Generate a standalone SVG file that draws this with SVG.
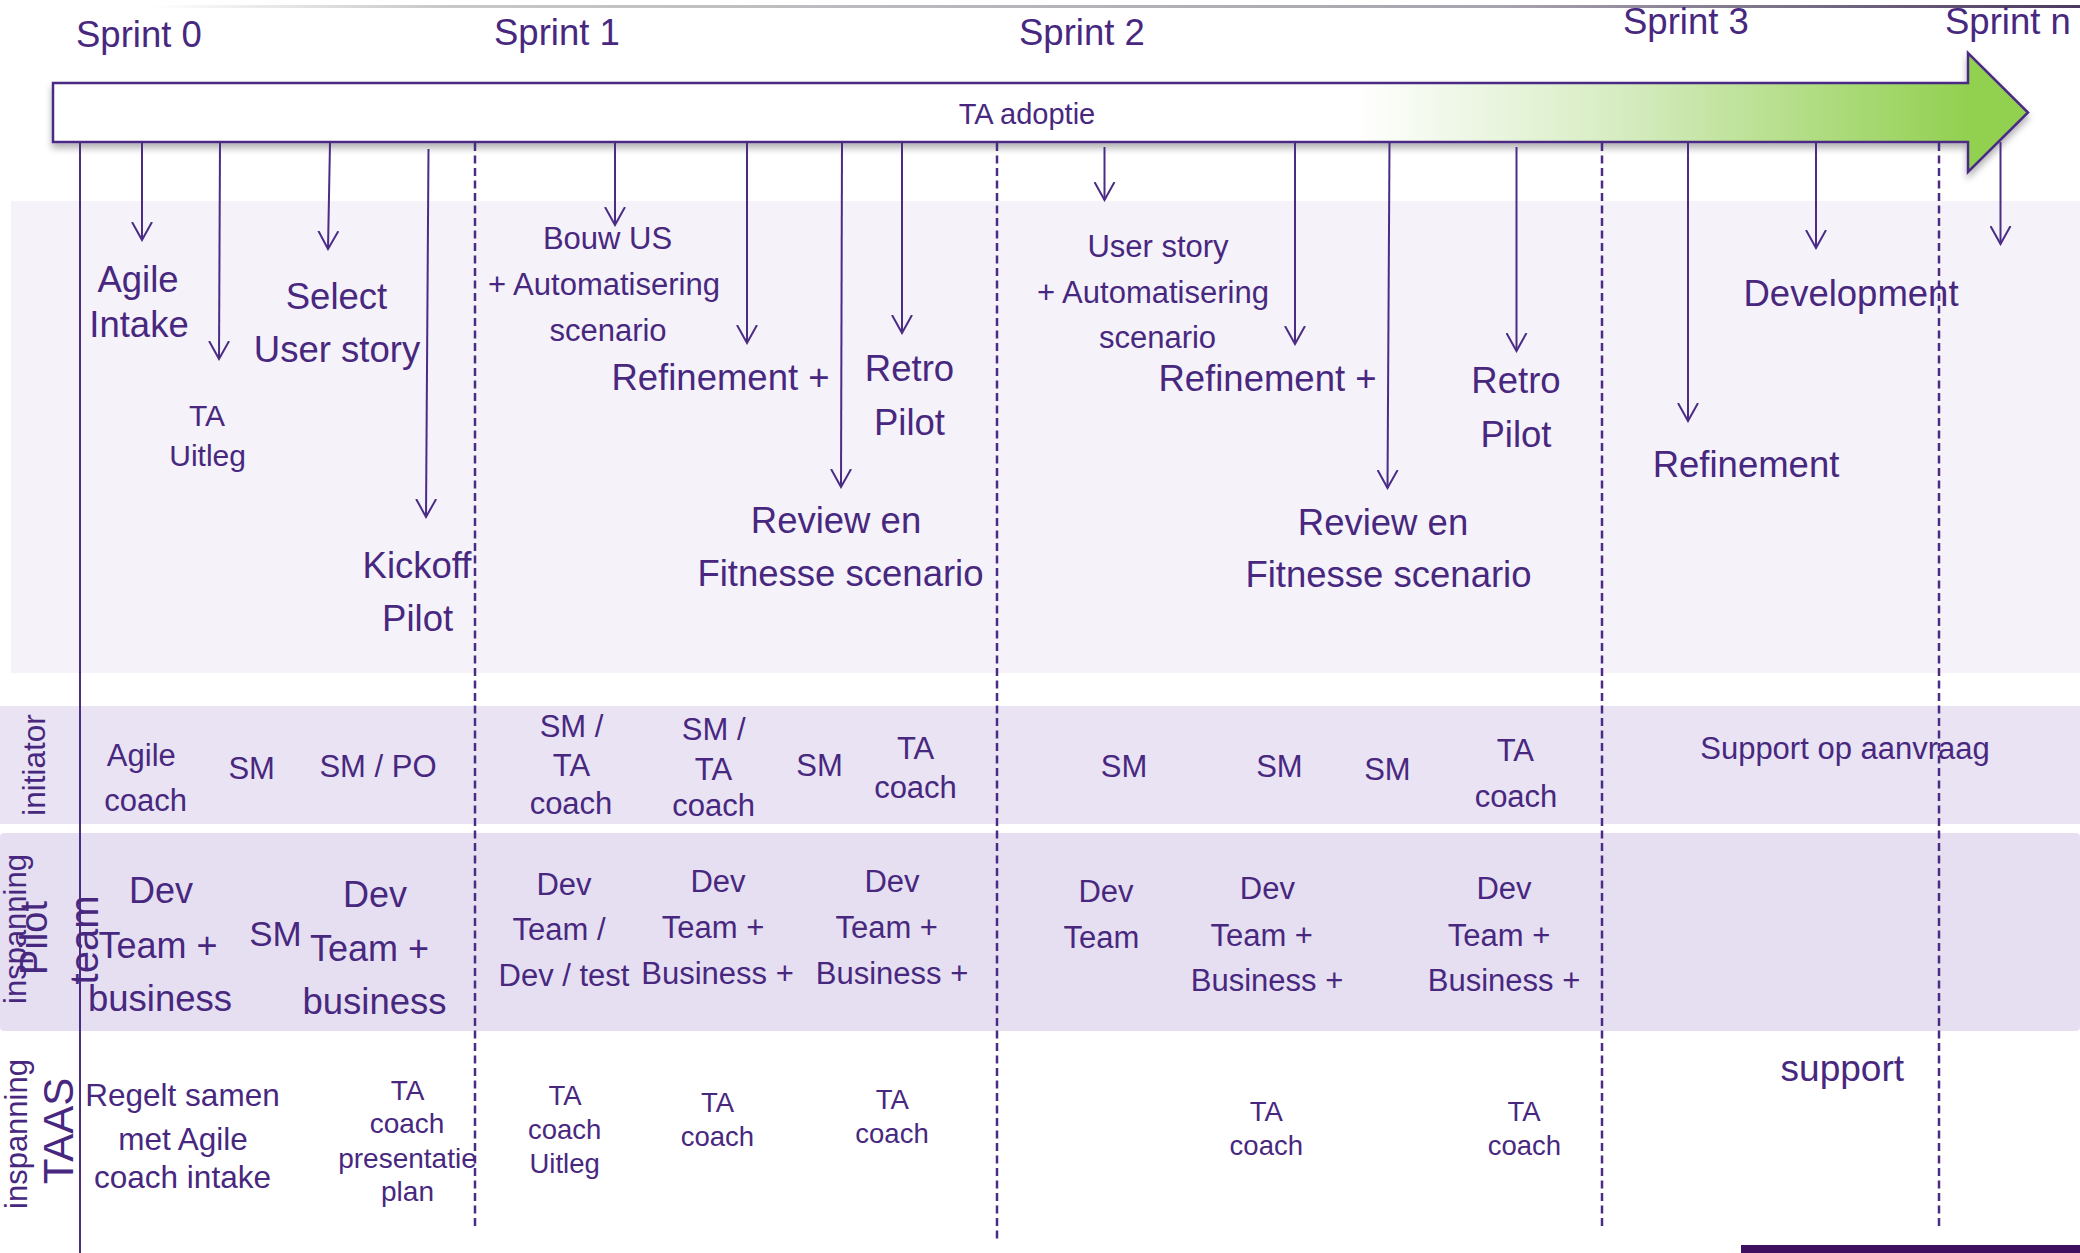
<svg xmlns="http://www.w3.org/2000/svg" width="2080" height="1253" viewBox="0 0 2080 1253">
<defs>
<style>
text{font-family:"Liberation Sans",Arial,sans-serif;fill:#48287F;text-anchor:middle}
.sp{font-size:36.5px;text-anchor:start}
.big{font-size:36.5px}
.med{font-size:31px}
.sm{font-size:27.5px}
.ln{stroke:#4B2C85;stroke-width:2;fill:none}
.arr{stroke:#4B2C85;stroke-width:2;fill:none;marker-end:url(#v)}
.dash{stroke:#4B2C85;stroke-width:2.5;stroke-dasharray:8 4.5;fill:none}
</style>
<marker id="v" viewBox="0 0 20 22" refX="18" refY="11" markerWidth="20" markerHeight="22" markerUnits="userSpaceOnUse" orient="auto">
<path d="M0,1 L18,11 L0,21" fill="none" stroke="#4B2C85" stroke-width="2"/>
</marker>
<linearGradient id="ag" x1="0" y1="0" x2="1" y2="0">
<stop offset="0" stop-color="#FFFFFF"/>
<stop offset="0.66" stop-color="#FFFFFF"/>
<stop offset="0.8" stop-color="#D4EBBE"/>
<stop offset="0.97" stop-color="#92D050"/>
<stop offset="1" stop-color="#92D050"/>
</linearGradient>
<linearGradient id="tg" x1="0" y1="0" x2="1" y2="0">
<stop offset="0" stop-color="#c8c8c8" stop-opacity="0"/>
<stop offset="0.15" stop-color="#c8c8c8"/>
<stop offset="0.7" stop-color="#a8a4ae"/>
<stop offset="1" stop-color="#4a3a60"/>
</linearGradient>
<filter id="sh" x="-5%" y="-30%" width="110%" height="170%">
<feDropShadow dx="0" dy="5" stdDeviation="3.5" flood-color="#000" flood-opacity="0.3"/>
</filter>
</defs>
<rect width="2080" height="1253" fill="#FFFFFF"/>

<g id="background">
<rect x="150" y="5" width="1930" height="3" fill="url(#tg)"/>
<rect id="band-activities" x="11" y="201" width="2069" height="472" fill="#F5F2FA"/>
<rect id="band-initiator" x="0" y="706" width="2080" height="118" fill="#E9E3F4"/>
<rect id="band-pilot" x="0" y="833" width="2080" height="198" rx="4" fill="#E6DFF1"/>
<rect x="1741" y="1245" width="339" height="8" fill="#3F1060"/>
</g>

<g id="sprints">
<text class="sp" x="76" y="47">Sprint 0</text>
<text class="sp" x="494" y="45">Sprint 1</text>
<text class="sp" x="1019" y="45">Sprint 2</text>
<text class="sp" x="1623" y="34">Sprint 3</text>
<text class="sp" x="1945" y="34">Sprint n</text>
</g>

<g id="ta-adoptie">
<path d="M53,83 L1968,83 L1968,53 L2028,112.5 L1968,172 L1968,142 L53,142 Z" fill="url(#ag)" stroke="#4B2C85" stroke-width="2.5" filter="url(#sh)"/>
<text x="1027" y="124" style="font-size:29px">TA adoptie</text>
</g>

<g id="connectors">
<line class="ln" x1="80" y1="143" x2="80" y2="1253"/>
<line class="dash" x1="475" y1="143" x2="475" y2="1228"/>
<line class="dash" x1="997" y1="143" x2="997" y2="1240"/>
<line class="dash" x1="1602" y1="143" x2="1602" y2="1229"/>
<line class="dash" x1="1939" y1="143" x2="1939" y2="1227"/>
<line class="arr" x1="142" y1="143" x2="142" y2="240"/>
<line class="arr" x1="220" y1="143" x2="219" y2="359"/>
<line class="arr" x1="330" y1="143" x2="328" y2="249"/>
<line class="arr" x1="428.5" y1="149" x2="426" y2="517"/>
<line class="arr" x1="615" y1="143" x2="615" y2="225"/>
<line class="arr" x1="747" y1="143" x2="747" y2="343"/>
<line class="arr" x1="842" y1="143" x2="841" y2="487"/>
<line class="arr" x1="902" y1="143" x2="902" y2="333"/>
<line class="arr" x1="1104.5" y1="147" x2="1104.5" y2="200"/>
<line class="arr" x1="1295" y1="143" x2="1295" y2="344"/>
<line class="arr" x1="1389.5" y1="143" x2="1387.5" y2="488"/>
<line class="arr" x1="1516.5" y1="147" x2="1516.5" y2="351"/>
<line class="arr" x1="1688" y1="143" x2="1688" y2="421"/>
<line class="arr" x1="1816" y1="143" x2="1816" y2="248"/>
<line class="arr" x1="2000.5" y1="142" x2="2000.5" y2="244"/>
</g>

<g id="row-titles">
<text transform="translate(45,765) rotate(-90)" style="font-size:31.5px">initiator</text>
<text transform="translate(26,929) rotate(-90)" style="font-size:31px">inspanning</text>
<text transform="translate(47,938) rotate(-90)" style="font-size:38px">Pilot</text>
<text transform="translate(98,940) rotate(-90)" style="font-size:40px">team</text>
<text transform="translate(27,1134) rotate(-90)" style="font-size:31px">inspanning</text>
<text transform="translate(73,1131) rotate(-90)" style="font-size:42px">TAAS</text>
</g>

<g id="agile-intake"><text class="big" x="138" y="292">Agile</text><text class="big" x="139" y="337">Intake</text></g>
<g id="ta-uitleg"><text x="207" y="426" style="font-size:30px">TA</text><text x="207.6" y="466" style="font-size:30px">Uitleg</text></g>
<g id="select-user-story"><text class="big" x="336.5" y="309">Select</text><text class="big" x="337" y="362">User story</text></g>
<g id="kickoff-pilot"><text class="big" x="417" y="578">Kickoff</text><text class="big" x="417.6" y="631">Pilot</text></g>
<g id="bouw-us"><text class="med" x="607.5" y="249">Bouw US</text><text class="med" x="604" y="295">+ Automatisering</text><text class="med" x="608" y="341">scenario</text></g>
<g id="refinement-1"><text class="big" x="720.5" y="390">Refinement +</text></g>
<g id="retro-1"><text class="big" x="909.5" y="381">Retro</text><text class="big" x="909.5" y="435">Pilot</text></g>
<g id="review-1"><text class="big" x="836" y="533">Review en</text><text class="big" x="840.5" y="586">Fitnesse scenario</text></g>
<g id="user-story-2"><text class="med" x="1158" y="257">User story</text><text class="med" x="1153" y="303">+ Automatisering</text><text class="med" x="1157.5" y="348">scenario</text></g>
<g id="refinement-2"><text class="big" x="1267.5" y="391">Refinement +</text></g>
<g id="retro-2"><text class="big" x="1516" y="393">Retro</text><text class="big" x="1516" y="447">Pilot</text></g>
<g id="review-2"><text class="big" x="1383" y="535">Review en</text><text class="big" x="1388.5" y="587">Fitnesse scenario</text></g>
<g id="refinement-3"><text class="big" x="1746" y="477">Refinement</text></g>
<g id="development"><text class="big" x="1851" y="306">Development</text></g>

<g id="initiator-row">
<text class="med" x="141.3" y="766">Agile</text><text class="med" x="145.7" y="811">coach</text>
<text class="med" x="251.7" y="779">SM</text>
<text class="med" x="378" y="777">SM / PO</text>
<text class="med" x="571.5" y="737">SM /</text><text class="med" x="571.5" y="776">TA</text><text class="med" x="571" y="814">coach</text>
<text class="med" x="713.7" y="740">SM /</text><text class="med" x="713.5" y="780">TA</text><text class="med" x="713.6" y="816">coach</text>
<text class="med" x="819.5" y="776">SM</text>
<text class="med" x="915.6" y="759">TA</text><text class="med" x="915.5" y="798">coach</text>
<text class="med" x="1124" y="777">SM</text>
<text class="med" x="1279.4" y="777">SM</text>
<text class="med" x="1387.4" y="780">SM</text>
<text class="med" x="1515.3" y="761">TA</text><text class="med" x="1516" y="807">coach</text>
<text class="med" x="1845" y="759">Support op aanvraag</text>
</g>

<g id="pilot-row">
<text x="161" y="903" style="font-size:36px">Dev</text><text x="158" y="958" style="font-size:36px">Team +</text><text x="160" y="1011" style="font-size:36.5px">business</text>
<text x="275.5" y="946" style="font-size:35px">SM</text>
<text x="375" y="907" style="font-size:36px">Dev</text><text x="369.5" y="961" style="font-size:36px">Team +</text><text x="374.5" y="1014" style="font-size:36.5px">business</text>
<text class="med" x="564" y="895">Dev</text><text class="med" x="559" y="939.5">Team /</text><text class="med" x="564" y="986">Dev / test</text>
<text class="med" x="718" y="892">Dev</text><text class="med" x="713" y="938">Team +</text><text class="med" x="717.5" y="984">Business +</text>
<text class="med" x="892" y="892">Dev</text><text class="med" x="886.7" y="938">Team +</text><text class="med" x="892" y="984">Business +</text>
<text class="med" x="1106" y="902">Dev</text><text class="med" x="1101.4" y="948">Team</text>
<text class="med" x="1267.4" y="899">Dev</text><text class="med" x="1261.7" y="946">Team +</text><text class="med" x="1267" y="991">Business +</text>
<text class="med" x="1504" y="899">Dev</text><text class="med" x="1499" y="946">Team +</text><text class="med" x="1504" y="991">Business +</text>
</g>

<g id="taas-row">
<text x="182.5" y="1106" style="font-size:31.5px">Regelt samen</text><text x="183" y="1150" style="font-size:31.5px">met Agile</text><text x="182.5" y="1188" style="font-size:31.5px">coach intake</text>
<text x="407.5" y="1100" style="font-size:28px">TA</text><text x="407" y="1133" style="font-size:28px">coach</text><text x="407.5" y="1168" style="font-size:28px">presentatie</text><text x="407.5" y="1201" style="font-size:28px">plan</text>
<text class="sm" x="565" y="1105">TA</text><text class="sm" x="564.7" y="1139">coach</text><text class="sm" x="564.6" y="1173">Uitleg</text>
<text class="sm" x="717.6" y="1112">TA</text><text class="sm" x="717.4" y="1146">coach</text>
<text class="sm" x="892.4" y="1109">TA</text><text class="sm" x="892" y="1143">coach</text>
<text class="sm" x="1266.4" y="1121">TA</text><text class="sm" x="1266.3" y="1155">coach</text>
<text class="sm" x="1524" y="1121">TA</text><text class="sm" x="1524.4" y="1155">coach</text>
<text x="1842.3" y="1081" style="font-size:37px">support</text>
</g>
</svg>
